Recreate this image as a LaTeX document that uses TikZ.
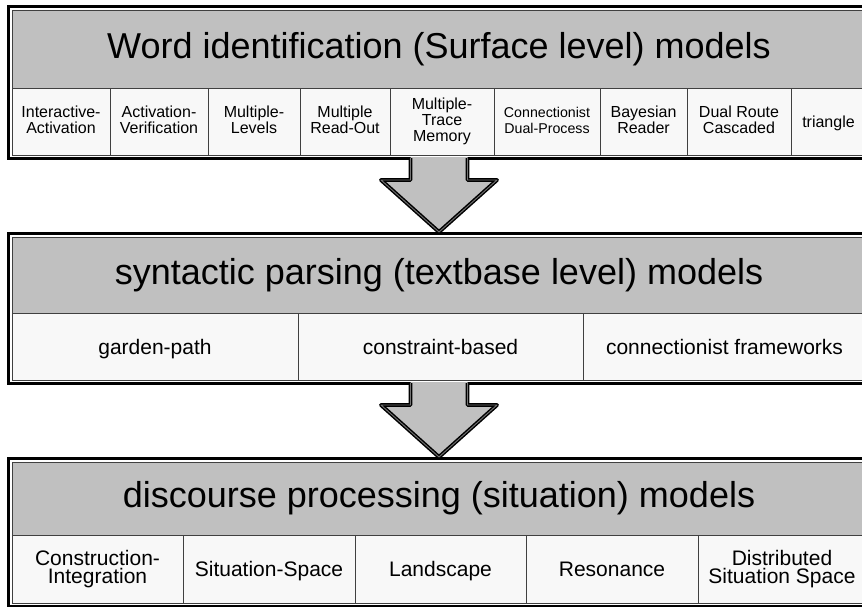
\documentclass[tikz,border=0pt]{standalone}
\usepackage{fontspec}
\setmainfont{Liberation Sans}
\usetikzlibrary{positioning}
\usetikzlibrary{calc}
\usetikzlibrary{fit}

\definecolor{headgray}{HTML}{C0C0C0}
\definecolor{cellwhite}{HTML}{F8F8F8}
\definecolor{rulegray}{HTML}{404040}

\tikzset{
  headbox/.style={draw=rulegray, line width=1pt, fill=headgray, inner sep=0pt,
    font=\fontsize{36}{40}\selectfont},
  cellbox/.style={draw=rulegray, line width=1pt, fill=cellwhite, inner sep=0pt, align=center,
    execute at begin node={\rule{0pt}{0.93em}}, execute at end node={\vphantom{g}}},
  framebox/.style={draw=black, line width=3pt, inner sep=3pt},
  arrowline/.style={draw=black, line width=1.5pt, double=headgray!60!black,
    double distance=0.9pt, line join=round}
}

% block arrow from the bottom of one box to the top of the next
\newcommand{\levelarrow}[2]{%
  \fill[headgray] ($(#1.south)+(-28.5,-3)$) -- ($(#1.south)+(-28.5,20)$)
    -- ($(#1.south)+(-58,20)$) -- (#2.north) -- ($(#1.south)+(58,20)$)
    -- ($(#1.south)+(28.5,20)$) -- ($(#1.south)+(28.5,-3)$) -- cycle;
  \draw[arrowline] ($(#1.south)+(-28.5,-2)$) -- ($(#1.south)+(-28.5,20)$)
    -- ($(#1.south)+(-58,20)$) -- (#2.north) -- ($(#1.south)+(58,20)$)
    -- ($(#1.south)+(28.5,20)$) -- ($(#1.south)+(28.5,-2)$);
}

\begin{document}
\begin{tikzpicture}[x=1pt, y=-1pt]
  \useasboundingbox (0,0) rectangle (862,606);
  \fill[white] (0,0) rectangle (862,606);
  \clip (0,0) rectangle (862,606);

  % surface level
  \node[headbox, minimum width=854pt, minimum height=78pt] (wordhead) at (439,49)
    {Word identification (Surface level) models};
  \foreach \l/\r/\s/\t [count=\i] in {
      12/110/16/{Interactive-\\Activation},
      110/208/16/{Activation-\\Verification},
      208/300/16/{Multiple-\\Levels},
      300/390/16/{Multiple\\Read-Out},
      390/494/16/{Multiple-\\Trace\\Memory},
      494/600/14.2/{Connectionist\\Dual-Process},
      600/687/16/{Bayesian\\Reader},
      687/791/16/{Dual Route\\Cascaded},
      791/866/16/{triangle}}
    \node[cellbox, minimum width={(\r-\l)*1pt}, minimum height=67pt,
      font=\fontsize{\s}{16}\selectfont] (w\i) at ({(\l+\r)/2},121.5) {\t};
  \node[framebox, fit=(wordhead)(w1)(w9)] (wordbox) {};

  % textbase level
  \node[headbox, minimum width=854pt, minimum height=76pt] (synthead) at (439,275)
    {syntactic parsing (textbase level) models};
  \foreach \l/\r/\t [count=\i] in {
      12/298/{garden-path},
      298/583/{constraint-based},
      583/866/{connectionist frameworks}}
    \node[cellbox, minimum width={(\r-\l)*1pt}, minimum height=67pt,
      font=\fontsize{21}{18}\selectfont] (s\i) at ({(\l+\r)/2},346.5) {\t};
  \node[framebox, fit=(synthead)(s1)(s3)] (syntbox) {};

  % situation level
  \node[headbox, minimum width=854pt, minimum height=73pt] (dischead) at (439,498.5)
    {discourse processing (situation) models};
  \foreach \l/\r/\t [count=\i] in {
      12/183/{Construction-\\Integration},
      183/355/{Situation-Space},
      355/526/{Landscape},
      526/698/{Resonance},
      698/866/{Distributed\\Situation Space}}
    \node[cellbox, minimum width={(\r-\l)*1pt}, minimum height=68pt,
      font=\fontsize{21}{18}\selectfont] (d\i) at ({(\l+\r)/2},569) {\t};
  \node[framebox, fit=(dischead)(d1)(d5)] (discbox) {};

  \levelarrow{wordbox}{syntbox}
  \levelarrow{syntbox}{discbox}
\end{tikzpicture}
\end{document}
